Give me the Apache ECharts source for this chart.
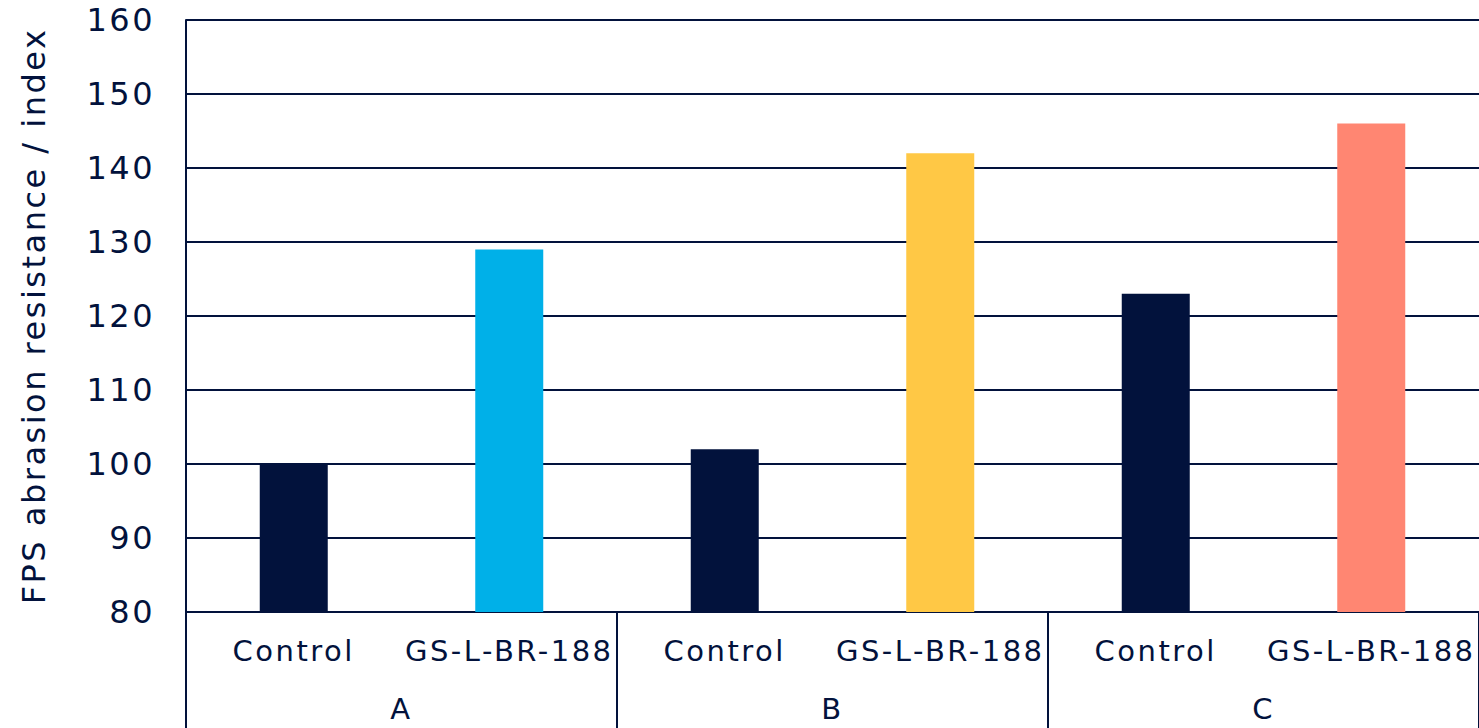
<!DOCTYPE html>
<html>
<head>
<meta charset="utf-8">
<script src="https://cdn.jsdelivr.net/npm/echarts@6/dist/echarts.min.js"></script>
<style>
  html, body { margin: 0; padding: 0; background: #ffffff; }
  #chart { width: 1479px; height: 728px; }
  /* open tracking on all chart text, as in the house typeface */
  #chart svg text { letter-spacing: 2.5px; }
</style>
</head>
<body>
<div id="chart"></div>
<script>
// Samples on the inner axis, grouped by compound on the outer axis
const samples = ['Control', 'GS-L-BR-188', 'Control', 'GS-L-BR-188', 'Control', 'GS-L-BR-188'];
const groups = ['A', 'B', 'C'];
const abrasionIndex = [100, 129, 102, 142, 123, 146];
const barColors = ['#02123C', '#00B0E8', '#02123C', '#FFC845', '#02123C', '#FF8672'];

const navy = '#02123C';
const font = '"DejaVu Sans", "Noto Sans", sans-serif';

const chart = echarts.init(document.getElementById('chart'), null, { renderer: 'svg' });
chart.setOption({
  animation: false,
  textStyle: { fontFamily: font, color: navy },
  grid: { left: 186, top: 20, width: 1295, height: 592, containLabel: false },
  xAxis: [
    {
      type: 'category',
      data: samples,
      axisLine: { show: true, lineStyle: { color: navy, width: 2 } },
      axisTick: { show: false },
      axisLabel: { color: navy, fontSize: 29, fontFamily: font, margin: 24, interval: 0 }
    },
    {
      type: 'category',
      data: groups,
      position: 'bottom',
      axisLine: { show: false },
      axisTick: { show: true, length: 116, lineStyle: { color: navy, width: 2 } },
      axisLabel: { color: navy, fontSize: 29, fontFamily: font, margin: 82, interval: 0 }
    }
  ],
  yAxis: {
    type: 'value',
    min: 80,
    max: 160,
    interval: 10,
    name: 'FPS abrasion resistance / index',
    nameLocation: 'middle',
    nameGap: 136,
    nameTextStyle: { color: navy, fontSize: 32, fontFamily: font },
    axisLine: { show: true, lineStyle: { color: navy, width: 2 } },
    axisTick: { show: false },
    axisLabel: { color: navy, fontSize: 32, fontFamily: font, margin: 31 },
    splitLine: { show: true, lineStyle: { color: navy, width: 2 } }
  },
  series: [
    {
      type: 'bar',
      xAxisIndex: 0,
      barWidth: 68,
      data: abrasionIndex.map((v, i) => ({ value: v, itemStyle: { color: barColors[i] } }))
    }
  ]
});
</script>
</body>
</html>
